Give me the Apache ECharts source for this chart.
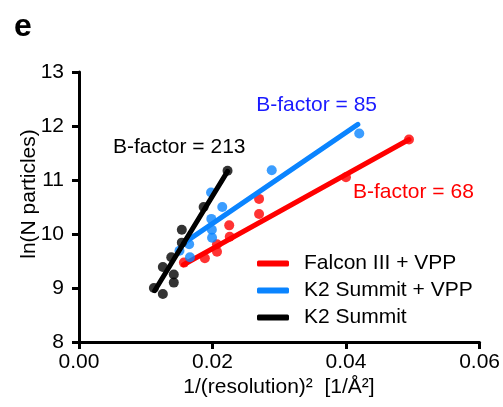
<!DOCTYPE html>
<html>
<head>
<meta charset="utf-8">
<script src="https://cdn.jsdelivr.net/npm/echarts@6/dist/echarts.min.js"></script>
<style>
  html, body { margin: 0; padding: 0; background: #fff; }
  #chart { width: 503px; height: 407px; }
</style>
</head>
<body>
<div id="chart"></div>
<script>
// measured points, x = 1/res^2, y = ln(N)
const falconX = [0.01572, 0.01885, 0.02067, 0.02067, 0.02250, 0.02258, 0.02697, 0.02697, 0.03999, 0.04943];
const falconY = [9.47, 9.55, 9.67, 9.81, 10.16, 9.95, 10.65, 10.37, 11.05, 11.75];
const k2vppX = [0.01978, 0.02146, 0.01982, 0.01990, 0.01993, 0.01650, 0.01505, 0.01662, 0.02887, 0.04198];
const k2vppY = [10.77, 10.50, 10.28, 10.08, 9.93, 9.81, 9.69, 9.57, 11.18, 11.86];
const k2X = [0.02225, 0.01867, 0.01540, 0.01540, 0.01382, 0.01256, 0.01420, 0.01420, 0.01122, 0.01256];
const k2Y = [11.17, 10.50, 10.08, 9.84, 9.57, 9.39, 9.25, 9.10, 9.00, 8.89];

// fitted line ends
const falconFit = [[0.01565, 9.43], [0.04943, 11.75]];
const k2vppFit = [[0.01569, 9.83], [0.04177, 12.03]];
const k2Fit = [[0.01133, 8.95], [0.02225, 11.16]];

const xTicks = [0, 0.02, 0.04, 0.06];
const yTicks = [8, 9, 10, 11, 12, 13];

const names = ['Falcon III + VPP', 'K2 Summit + VPP', 'K2 Summit'];
const colors = ['#ff0000', '#0a84ff', '#000000'];
const bLabels = ['B-factor = 68', 'B-factor = 85', 'B-factor = 213'];

const font = 'Liberation Sans, Arial, sans-serif';
const pts = (xs, ys) => xs.map((x, i) => [x, ys[i]]);

const sets = [
    [falconX, falconY, falconFit],
    [k2vppX, k2vppY, k2vppFit],
    [k2X, k2Y, k2Fit]
];

const series = [];
sets.forEach((s, i) => {
    series.push({
        name: names[i],
        type: 'line',
        data: s[2],
        showSymbol: false,
        symbol: 'none',
        lineStyle: { color: colors[i], width: 5, cap: 'round' },
        itemStyle: { color: colors[i] },
        z: 2 + i * 2,
        silent: true
    });
    series.push({
        name: names[i] + ' pts',
        type: 'scatter',
        data: pts(s[0], s[1]),
        symbol: 'circle',
        symbolSize: 10,
        itemStyle: { color: colors[i] },
        z: 3 + i * 2
    });
});

const chart = echarts.init(document.getElementById('chart'), null, { renderer: 'canvas' });
chart.setOption({
    animation: false,
    backgroundColor: '#fff',
    textStyle: { fontFamily: font },
    grid: { left: 79, right: 21, top: 72, bottom: 65 },
    xAxis: {
        type: 'value',
        min: xTicks[0],
        max: xTicks[xTicks.length - 1],
        interval: 0.02,
        splitLine: { show: false },
        axisLine: { lineStyle: { color: '#000', width: 3 } },
        axisTick: { show: true, length: 7, lineStyle: { color: '#000', width: 3 } },
        axisLabel: {
            color: '#000', fontSize: 21, fontFamily: font, margin: 10,
            formatter: v => v.toFixed(2)
        }
    },
    yAxis: {
        type: 'value',
        min: yTicks[0],
        max: yTicks[yTicks.length - 1],
        interval: 1,
        splitLine: { show: false },
        axisLine: { show: true, lineStyle: { color: '#000', width: 3 } },
        axisTick: { show: true, length: 7, lineStyle: { color: '#000', width: 3 } },
        axisLabel: { color: '#000', fontSize: 21, fontFamily: font, margin: 15 }
    },
    legend: {
        orient: 'vertical',
        left: 257,
        top: 253,
        padding: 0,
        itemWidth: 32,
        itemHeight: 6,
        itemGap: 6,
        icon: 'roundRect',
        data: names,
        textStyle: { color: '#000', fontSize: 21, fontFamily: font, padding: [0, 0, 0, 10] }
    },
    graphic: [
        { type: 'text', x: 14, y: 27, style: { text: 'e', font: 'bold 32px ' + font, fill: '#000', verticalAlign: 'middle' } },
        {
            type: 'text', x: 29, y: 194, rotation: Math.PI / 2,
            style: { text: 'ln(N particles)', font: '21px ' + font, fill: '#000', align: 'center', verticalAlign: 'middle' }
        },
        {
            type: 'text', x: 279, y: 387,
            style: { text: '1/(resolution)²  [1/Å²]', font: '21px ' + font, fill: '#000', align: 'center', verticalAlign: 'middle' }
        },
        { type: 'text', x: 113, y: 147, style: { text: bLabels[2], font: '21px ' + font, fill: '#000', verticalAlign: 'middle' } },
        { type: 'text', x: 377, y: 105, style: { text: bLabels[1], font: '21px ' + font, fill: '#1a1aff', align: 'right', verticalAlign: 'middle' } },
        { type: 'text', x: 353, y: 192, style: { text: bLabels[0], font: '21px ' + font, fill: '#ff0000', verticalAlign: 'middle' } }
    ],
    series: series
});
</script>
</body>
</html>
